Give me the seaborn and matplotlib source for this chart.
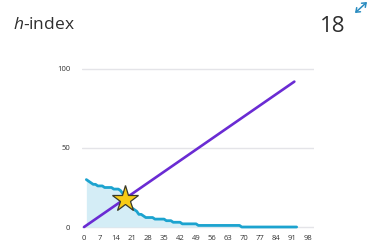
import matplotlib
matplotlib.use("Agg")
import matplotlib.pyplot as plt
import seaborn as sns
import numpy as np
import pandas as pd

# ---- data ----
ranks = list(range(1, 94))
citations = ([30, 29, 28, 27, 27, 26, 26, 26, 25, 25, 25, 25, 24, 24, 24, 23, 21, 19,
              16, 14, 12, 11, 10, 8, 8, 7, 6, 6, 6, 6, 5, 5, 5, 5, 5, 4, 4, 4,
              3, 3, 3, 3, 2, 2, 2, 2, 2, 2, 2]
             + [1] * 19 + [0] * 25)
diag_x = [0, 92]
diag_y = [0, 92]
h_index = 18
x_ticks = list(range(0, 99, 7))
y_ticks = [0, 50, 100]
title = "-index"
value_label = "18"

sns.set_theme(style="white")
plt.rcParams['font.family'] = ['Open Sans', 'DejaVu Sans']
plt.rcParams['mathtext.fontset'] = 'custom'
plt.rcParams['mathtext.rm'] = 'Open Sans'
plt.rcParams['mathtext.it'] = 'Open Sans:italic'

W, H = 372, 241
fig = plt.figure(figsize=(W / 100, H / 100), dpi=100)
ax = fig.add_axes([82 / W, 0.0515, (314 - 82) / W, 0.6688])

df = pd.DataFrame({"rank": ranks, "cit": citations})
ax.fill_between(df["rank"], df["cit"], 0, color="#D4EDF6", lw=0, zorder=1)
sns.lineplot(data=df, x="rank", y="cit", ax=ax, color="#1CA3CF", lw=2.0, zorder=3)
sns.lineplot(x=diag_x, y=diag_y, ax=ax, color="#6A2BD3", lw=1.9, zorder=4,
             solid_capstyle="round")
ax.plot([h_index], [h_index], marker="*", markersize=20, color="#F7CB15",
        markeredgecolor="#3A3A2A", markeredgewidth=0.9, zorder=6, clip_on=False)

ax.set_xlim(-0.9, 100.6)
ax.set_ylim(-1, 101)
ax.set_xticks(x_ticks)
ax.set_yticks(y_ticks)
ax.set_xlabel("")
ax.set_ylabel("")
for s in ax.spines.values():
    s.set_visible(False)
ax.grid(axis="y", color="#E4E4E8", lw=1.0)
ax.grid(axis="x", visible=False)
ax.set_axisbelow(True)
ax.tick_params(axis="x", length=0, pad=4.6, labelsize=5.5, labelcolor="#333333")
ax.tick_params(axis="y", length=0, pad=8.6, labelsize=5.5, labelcolor="#333333")

fig.text(13 / W, 1 - 29 / H, r"$h$" + title, fontsize=12.5, color="#2E2E2E",
         ha="left", va="baseline")
fig.text(345 / W, 1 - 32 / H, value_label, fontsize=16, color="#2E2E2E",
         ha="right", va="baseline")
fig.add_artist(matplotlib.patches.FancyArrowPatch(
    (355 / W, 1 - 13 / H), (367 / W, 1 - 2 / H), transform=fig.transFigure,
    arrowstyle="<->,head_length=2.6,head_width=2.0", color="#2A8CC0", lw=1.1,
    shrinkA=0, shrinkB=0))

fig.savefig("out.png", dpi=100)
